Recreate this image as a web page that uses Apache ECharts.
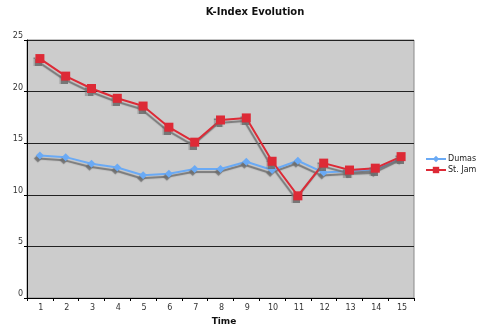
<!DOCTYPE html>
<html>
<head>
<meta charset="utf-8">
<script src="https://cdn.jsdelivr.net/npm/echarts@6/dist/echarts.min.js"></script>
<style>
  html, body { margin: 0; padding: 0; background: #fff; }
  #chart { width: 482px; height: 325px; }
</style>
</head>
<body>
<div id="chart"></div>
<script>
// K-index readings per time step for the two stations
const times = ['1','2','3','4','5','6','7','8','9','10','11','12','13','14','15'];
const dumas = [13.8, 13.65, 13.0, 12.65, 11.9, 12.05, 12.5, 12.5, 13.2, 12.4, 13.3, 12.15, 12.3, 12.4, 13.6];
const stJames = [23.2, 21.5, 20.3, 19.35, 18.6, 16.55, 15.1, 17.25, 17.45, 13.25, 9.9, 13.07, 12.4, 12.58, 13.7];
const yTicks = [0, 5, 10, 15, 20, 25];

const FONT = 'DejaVu Sans';
const shadow = {
  shadowColor: 'rgba(110,110,110,0.9)',
  shadowOffsetX: -2,
  shadowOffsetY: 3,
  shadowBlur: 1
};

const chart = echarts.init(document.getElementById('chart'), null, { renderer: 'canvas' });
chart.setOption({
  animation: false,
  backgroundColor: '#ffffff',
  title: {
    text: 'K-Index Evolution',
    left: 250,
    top: 2,
    textAlign: 'center',
    textStyle: { fontFamily: FONT, fontSize: 10, fontWeight: 'bold', color: '#111' }
  },
  legend: {
    orient: 'vertical',
    left: 425,
    top: 155,
    itemWidth: 20,
    itemHeight: 8,
    itemGap: 3,
    padding: 0,
    textStyle: {
      fontFamily: FONT, fontSize: 8, color: '#222', padding: [0, 0, 0, -3],
      width: 31, overflow: 'truncate', ellipsis: ''
    },
    data: ['Dumas', 'St. James']
  },
  grid: {
    left: 27,
    right: 68,
    top: 40,
    bottom: 27,
    outerBoundsMode: 'none',
    containLabel: false,
    show: true,
    backgroundColor: '#cccccc',
    borderColor: '#8a8a8a',
    borderWidth: 1
  },
  xAxis: {
    type: 'category',
    data: times,
    boundaryGap: true,
    name: 'Time',
    nameLocation: 'middle',
    nameGap: 15,
    nameTextStyle: { fontFamily: FONT, fontSize: 9, fontWeight: 'bold', color: '#111', padding: [0, 0, 0, 7] },
    axisLine: { lineStyle: { color: '#000', width: 1 } },
    axisTick: { show: true, length: 3, inside: false, lineStyle: { color: '#000' } },
    axisLabel: { fontFamily: FONT, fontSize: 8, color: '#333', margin: 6, padding: [0, 0, 0, 2] },
    splitLine: { show: false }
  },
  yAxis: {
    type: 'value',
    min: yTicks[0],
    max: yTicks[yTicks.length - 1],
    interval: 5,
    axisLine: { show: true, lineStyle: { color: '#000', width: 1 } },
    axisTick: { show: true, length: 3, lineStyle: { color: '#000' } },
    axisLabel: { fontFamily: FONT, fontSize: 8, color: '#333', margin: 4, verticalAlign: 'bottom' },
    splitLine: { show: true, lineStyle: { color: '#222', width: 1 } }
  },
  series: [
    {
      name: 'Dumas',
      type: 'line',
      data: dumas,
      symbol: 'diamond',
      symbolSize: 8,
      lineStyle: Object.assign({ color: '#6aaaf5', width: 2 }, shadow),
      itemStyle: Object.assign({ color: '#6aaaf5' }, shadow)
    },
    {
      name: 'St. James',
      type: 'line',
      data: stJames,
      symbol: 'rect',
      symbolSize: 9,
      lineStyle: Object.assign({ color: '#dd2a36', width: 2 }, shadow),
      itemStyle: Object.assign({ color: '#dd2a36' }, shadow)
    }
  ]
});
</script>
</body>
</html>
